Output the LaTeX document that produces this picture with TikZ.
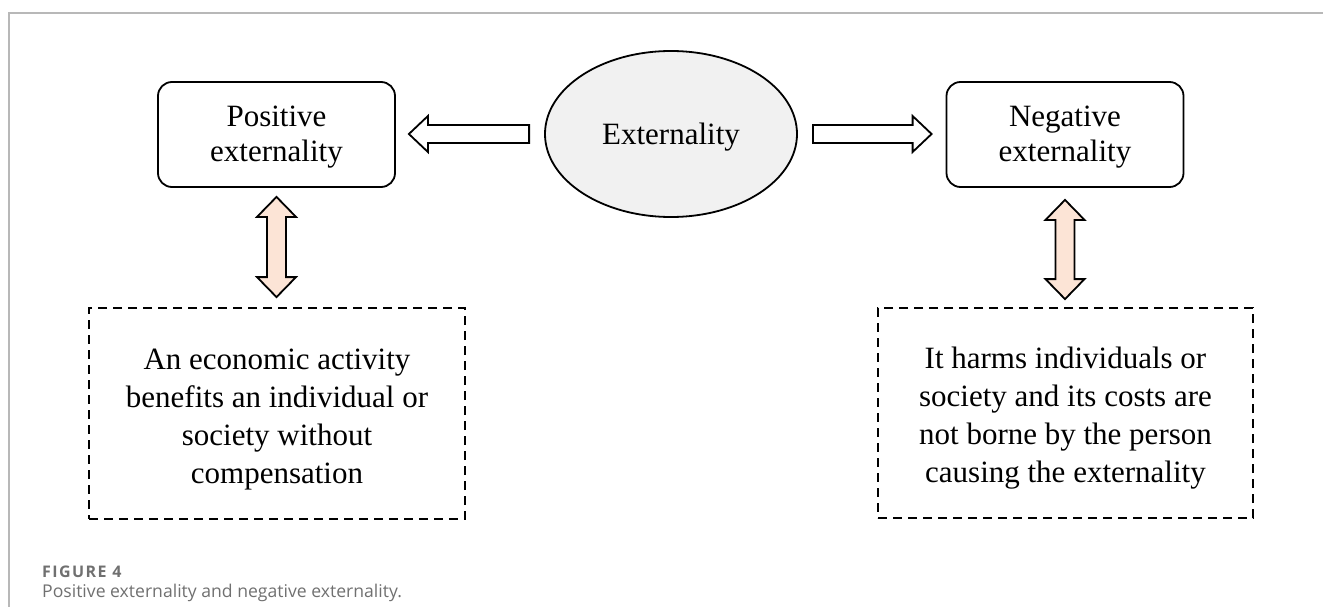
\documentclass[tikz,border=0pt]{standalone}
\usepackage{fontspec}
\setmainfont{Liberation Serif}
\newfontfamily\capfont{Open Sans}
\usetikzlibrary{shapes.geometric,calc}

\definecolor{framegray}{HTML}{B8B8B8}
\definecolor{ellfill}{HTML}{F1F1F1}
\definecolor{peach}{HTML}{FCE4D6}
\definecolor{capgray}{HTML}{707070}

\tikzset{
  topbox/.style={draw, line width=1.8pt, rounded corners=14pt, align=center,
    minimum width=237pt, minimum height=105pt, inner sep=0pt,
    font=\fontsize{31}{35}\selectfont},
  defbox/.style={draw, line width=1.8pt, dash pattern=on 9pt off 6pt,
    align=center, inner sep=0pt, font=\fontsize{31}{38}\selectfont},
  hollow/.style={draw, line width=1.8pt, fill=white, line join=miter},
  peacharrow/.style={draw, line width=1.8pt, fill=peach, line join=miter},
}

% centred lines of text, drawn #1 lower than the node centre
\newcommand\textlines[2]{\raisebox{-#1}[\height][\depth]{\begin{tabular}{@{}c@{}}#2\end{tabular}}}

% horizontal block arrow: tail #1, tip #2
\newcommand\blockarrowH[3]{%
  \path[#3] let \p1=#1, \p2=#2, \n1={sign(\x2-\x1)} in
    (\x1,\y1+9pt) -- (\x2-\n1*19pt,\y1+9pt) -- (\x2-\n1*19pt,\y1+18pt) --
    (\x2,\y1) -- (\x2-\n1*19pt,\y1-18pt) -- (\x2-\n1*19pt,\y1-9pt) --
    (\x1,\y1-9pt) -- cycle;}
% vertical double-headed block arrow between tips #1 and #2
\newcommand\blockarrowV[3]{%
  \path[#3] let \p1=#1, \p2=#2, \n1={sign(\y2-\y1)} in
    (\x1,\y1) -- (\x1+19.5pt,\y1+\n1*20pt) -- (\x1+9.5pt,\y1+\n1*20pt) --
    (\x1+9.5pt,\y2-\n1*20pt) -- (\x1+19.5pt,\y2-\n1*20pt) -- (\x1,\y2) --
    (\x1-19.5pt,\y2-\n1*20pt) -- (\x1-9.5pt,\y2-\n1*20pt) --
    (\x1-9.5pt,\y1+\n1*20pt) -- (\x1-19.5pt,\y1+\n1*20pt) -- cycle;}

\begin{document}
\begin{tikzpicture}[x=1pt, y=-1pt]
  \useasboundingbox (0,0) rectangle (1323,607);

  % page frame
  \coordinate (fr-tl) at (9,13);
  \coordinate (fr-tr) at (1323,13);
  \coordinate (fr-bl) at (9,607);
  \draw[framegray, line width=1.5pt] (fr-tr) -- (fr-tl) -- (fr-bl);

  % central concept
  \node[ellipse, draw, line width=1.8pt, fill=ellfill, minimum width=252pt,
        minimum height=166pt, inner sep=0pt, font=\fontsize{31}{35}\selectfont]
        (ext) at (671,134) {\textlines{4pt}{Externality}};

  % the two kinds
  \node[topbox] (pos) at (276.5,134.5) {\textlines{3pt}{Positive\\externality}};
  \node[topbox] (neg) at (1065,134.5) {\textlines{3pt}{Negative\\externality}};

  % definitions
  \node[defbox, minimum width=376pt, minimum height=211pt] (posdef) at (277,413.5)
    {\textlines{5pt}{An economic activity\\benefits an individual or\\society without\\compensation}};
  \node[defbox, minimum width=375pt, minimum height=210pt] (negdef) at (1065.5,413)
    {\textlines{5pt}{It harms individuals or\\society and its costs are\\not borne by the person\\causing the externality}};

  % arrow ends
  \coordinate (l-tail) at ([xshift=-15pt]ext.west);
  \coordinate (l-tip)  at ([xshift=13pt]pos.east);
  \coordinate (r-tail) at ([xshift=15pt]ext.east);
  \coordinate (r-tip)  at ([xshift=-14pt]neg.west);
  \coordinate (pl-top) at ([yshift=-9pt]pos.south);
  \coordinate (pl-bot) at ([yshift=10pt]posdef.north);
  \coordinate (nl-top) at ([yshift=-12pt]neg.south);
  \coordinate (nl-bot) at ([yshift=8pt]negdef.north);

  \blockarrowH{(l-tail)}{(l-tip)}{hollow}
  \blockarrowH{(r-tail)}{(r-tip)}{hollow}
  \blockarrowV{(pl-top)}{(pl-bot)}{peacharrow}
  \blockarrowV{(nl-top)}{(nl-bot)}{peacharrow}

  % caption
  \node[anchor=west, inner sep=0pt, text=capgray,
        font=\capfont\bfseries\fontsize{16}{18}\selectfont\addfontfeature{LetterSpace=9}]
    (figlabel) at (42,572) {FIGURE 4};
  \node[anchor=west, inner sep=0pt, text=capgray,
        font=\capfont\fontsize{17.6}{20}\selectfont]
    (figcap) at (42,593) {Positive externality and negative externality.};
\end{tikzpicture}
\end{document}
